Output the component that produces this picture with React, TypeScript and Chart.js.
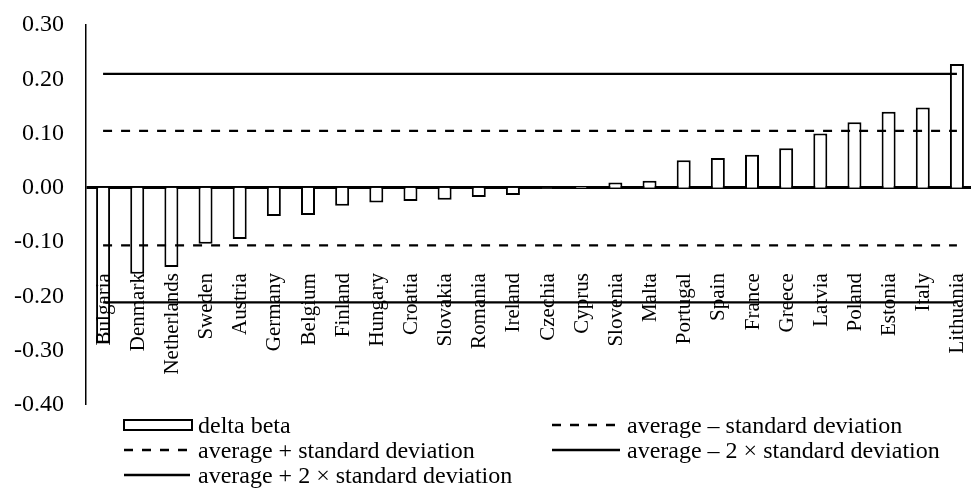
import React, { useEffect, useRef } from "react";
import { Chart, registerables } from "chart.js";

Chart.register(...registerables);

const countries = [
  "Bulgaria", "Denmark", "Netherlands", "Sweden", "Austria", "Germany", "Belgium",
  "Finland", "Hungary", "Croatia", "Slovakia", "Romania", "Ireland", "Czechia",
  "Cyprus", "Slovenia", "Malta", "Portugal", "Spain", "France", "Greece", "Latvia",
  "Poland", "Estonia", "Italy", "Lithuania",
];

const deltaBeta = [
  -0.285, -0.158, -0.146, -0.103, -0.094, -0.052, -0.050,
  -0.033, -0.027, -0.024, -0.022, -0.017, -0.013, -0.001,
  0.003, 0.010, 0.013, 0.051, 0.055, 0.061, 0.073, 0.100,
  0.121, 0.140, 0.148, 0.228,
];

const avgPlusSd = 0.105;
const avgPlus2Sd = 0.210;
const avgMinusSd = -0.106;
const avgMinus2Sd = -0.211;

const yMin = -0.4;
const yMax = 0.3;
const yStep = 0.1;

const seriesLabels = [
  "delta beta",
  "average + standard deviation",
  "average + 2 \u00d7 standard deviation",
  "average \u2013 standard deviation",
  "average \u2013 2 \u00d7 standard deviation",
];

// legend grid (dataset indices), row-major, two columns
const legendRows = [
  [0, 3],
  [1, 4],
  [2],
];

const FONT = "'Liberation Serif', 'Times New Roman', serif";
const LABEL_ANCHOR = -0.157;

const hLine = (v: number) => [
  { x: countries[0], y: v },
  { x: countries[countries.length - 1], y: v },
];

export default function App() {
  const ref = useRef<HTMLCanvasElement | null>(null);

  useEffect(() => {
    if (!ref.current) return;

    const categoryLabels = {
      id: "categoryLabels",
      afterDatasetsDraw(chart: any) {
        const { ctx, scales } = chart;
        const xs = scales.x;
        const ys = scales.y;
        const y = ys.getPixelForValue(LABEL_ANCHOR);
        ctx.save();
        ctx.fillStyle = "#000";
        ctx.font = `21px ${FONT}`;
        ctx.textAlign = "right";
        ctx.textBaseline = "middle";
        countries.forEach((c, i) => {
          const x = xs.getPixelForValue(i);
          ctx.save();
          ctx.translate(x, y);
          ctx.rotate(-Math.PI / 2);
          ctx.fillText(c, 0, 1);
          ctx.restore();
        });
        ctx.restore();
      },
    };

    const customLegend = {
      id: "customLegend",
      afterDraw(chart: any) {
        const { ctx } = chart;
        const colSym = [124, 552];
        const symW = [66, 68];
        const colText = [198, 627];
        const baselines = [433, 458, 483];
        ctx.save();
        ctx.font = `24px ${FONT}`;
        ctx.fillStyle = "#000";
        ctx.textAlign = "left";
        ctx.textBaseline = "alphabetic";
        legendRows.forEach((row, r) => {
          row.forEach((di, c) => {
            const ds = chart.data.datasets[di];
            const base = baselines[r];
            const sy = base - 8;
            ctx.strokeStyle = "#000";
            if (di === 0) {
              ctx.lineWidth = 2;
              ctx.setLineDash([]);
              ctx.fillStyle = "#fff";
              ctx.fillRect(colSym[c], sy - 5, symW[c] + 2, 10);
              ctx.strokeRect(colSym[c], sy - 5, symW[c] + 2, 10);
            } else {
              ctx.lineWidth = ds.borderWidth;
              ctx.setLineDash(ds.borderDash || []);
              ctx.beginPath();
              ctx.moveTo(colSym[c], sy);
              ctx.lineTo(colSym[c] + symW[c], sy);
              ctx.stroke();
            }
            ctx.setLineDash([]);
            ctx.fillStyle = "#000";
            ctx.fillText(ds.label, colText[c], base);
          });
        });
        ctx.restore();
      },
    };

    const lineDs = (label: string, v: number, dashed: boolean) => ({
      type: "line" as const,
      label,
      data: hLine(v),
      borderColor: "#000",
      backgroundColor: "#000",
      borderWidth: 2.4,
      borderDash: dashed ? [9, 9] : [],
      pointRadius: 0,
      fill: false,
      order: 0,
    });

    const chart = new Chart(ref.current, {
      type: "bar",
      data: {
        labels: countries,
        datasets: [
          {
            type: "bar",
            label: seriesLabels[0],
            data: deltaBeta,
            backgroundColor: "#fff",
            borderColor: "#000",
            borderWidth: 2,
            categoryPercentage: 1,
            barPercentage: 0.41,
            order: 10,
          } as any,
          lineDs(seriesLabels[1], avgPlusSd, true),
          lineDs(seriesLabels[2], avgPlus2Sd, false),
          lineDs(seriesLabels[3], avgMinusSd, true),
          lineDs(seriesLabels[4], avgMinus2Sd, false),
        ],
      },
      options: {
        responsive: false,
        animation: false,
        layout: { padding: { top: 25, bottom: 83, left: 0, right: 0 } },
        plugins: {
          legend: { display: false },
          tooltip: { enabled: false },
        },
        scales: {
          x: {
            display: false,
            offset: true,
          },
          y: {
            min: yMin,
            max: yMax,
            ticks: {
              stepSize: yStep,
              color: "#000",
              padding: 22,
              font: { family: FONT, size: 24 },
              callback: (v: any) =>
                Math.abs(Number(v)) < 1e-9 ? "0.00" : Number(v).toFixed(2),
            },
            grid: {
              drawTicks: false,
              color: (c: any) =>
                c.tick && Math.abs(c.tick.value) < 1e-9 ? "#000" : "rgba(0,0,0,0)",
              lineWidth: (c: any) =>
                c.tick && Math.abs(c.tick.value) < 1e-9 ? 3 : 0,
            },
            border: { display: true, color: "#000", width: 1.5 },
            afterFit: (s: any) => {
              s.width = 86;
              s.paddingTop = 0;
              s.paddingBottom = 0;
            },
          },
        },
      },
      plugins: [categoryLabels, customLegend],
    } as any);

    return () => chart.destroy();
  }, []);

  return (
    <div
      style={{
        position: "fixed",
        left: 0,
        top: 0,
        width: 971,
        height: 488,
        overflow: "hidden",
        background: "#fff",
      }}
    >
      <canvas ref={ref} width={974} height={488} style={{ display: "block" }} />
    </div>
  );
}
